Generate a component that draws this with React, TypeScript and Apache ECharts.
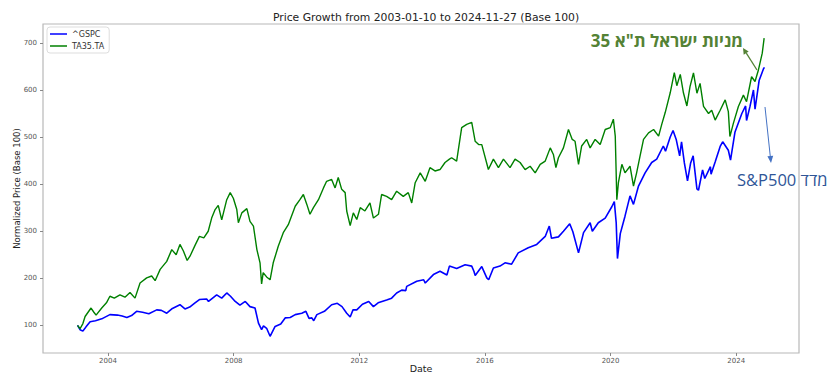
import React, { useEffect, useRef } from "react";
import * as echarts from "echarts";

const titleText = "Price Growth from 2003-01-10 to 2024-11-27 (Base 100)";
const seriesNames = ["^GSPC", "TA35.TA"];
const xTickYears = [2004, 2008, 2012, 2016, 2020, 2024];
const yTickValues = [100, 200, 300, 400, 500, 600, 700];

// [decimal year, normalized price]
const gspcPoints: [number, number][] = [
  [2003.03, 100], [2003.11, 91], [2003.2, 88], [2003.3, 97], [2003.43, 108], [2003.6, 110],
  [2003.8, 114], [2004.06, 123], [2004.3, 122], [2004.45, 120], [2004.6, 117], [2004.75, 121],
  [2004.91, 130], [2005.1, 128], [2005.3, 125], [2005.55, 133], [2005.7, 132], [2005.87, 126],
  [2006.05, 136], [2006.29, 144], [2006.45, 135], [2006.6, 139], [2006.77, 148], [2006.91, 155],
  [2007.14, 156], [2007.2, 151], [2007.46, 165], [2007.62, 158], [2007.78, 169], [2007.9, 162],
  [2008.05, 151], [2008.2, 143], [2008.37, 151], [2008.52, 140], [2008.68, 137], [2008.79, 105],
  [2008.89, 91], [2008.95, 99], [2009.05, 94], [2009.16, 77], [2009.32, 98], [2009.5, 103],
  [2009.64, 116], [2009.8, 117], [2009.96, 123], [2010.17, 126], [2010.3, 130], [2010.4, 115],
  [2010.49, 116], [2010.55, 110], [2010.65, 123], [2010.89, 130], [2011.12, 144], [2011.3, 147],
  [2011.45, 140], [2011.6, 126], [2011.71, 118], [2011.8, 133], [2011.92, 133], [2012.1, 145],
  [2012.3, 151], [2012.45, 140], [2012.6, 148], [2012.87, 154], [2013.03, 158], [2013.19, 169],
  [2013.35, 175], [2013.48, 174], [2013.51, 183], [2013.83, 194], [2014.05, 197], [2014.1, 190],
  [2014.36, 208], [2014.57, 215], [2014.79, 207], [2014.87, 226], [2015.1, 221], [2015.37, 229],
  [2015.58, 226], [2015.65, 215], [2015.69, 206], [2015.9, 225], [2016.06, 201], [2016.12, 197],
  [2016.27, 222], [2016.48, 226], [2016.64, 233], [2016.85, 230], [2017.06, 254], [2017.38, 265],
  [2017.65, 272], [2017.92, 289], [2018.05, 311], [2018.12, 285], [2018.34, 288], [2018.5, 300],
  [2018.7, 316], [2018.8, 299], [2018.98, 254], [2019.14, 297], [2019.35, 318], [2019.42, 300],
  [2019.61, 318], [2019.83, 328], [2020.04, 352], [2020.12, 363], [2020.18, 318], [2020.22, 242],
  [2020.31, 295], [2020.46, 332], [2020.62, 375], [2020.73, 357], [2020.89, 396], [2021.1, 424],
  [2021.31, 446], [2021.47, 453], [2021.68, 481], [2021.75, 470], [2021.9, 500], [2021.99, 514],
  [2022.09, 495], [2022.2, 460], [2022.26, 490], [2022.35, 445], [2022.45, 407], [2022.55, 445],
  [2022.63, 460], [2022.75, 390], [2022.8, 387], [2022.93, 430], [2023.0, 412], [2023.18, 437],
  [2023.2, 421], [2023.33, 447], [2023.49, 480], [2023.57, 490], [2023.75, 472], [2023.82, 451],
  [2023.96, 510], [2024.18, 550], [2024.3, 566], [2024.33, 535], [2024.44, 565], [2024.55, 600],
  [2024.6, 559], [2024.73, 620], [2024.87, 645], [2024.9, 648],
];

const ta35Points: [number, number][] = [
  [2003.03, 100], [2003.11, 93], [2003.2, 104], [2003.27, 119], [2003.46, 137], [2003.55, 128],
  [2003.62, 122], [2003.8, 137], [2003.95, 148], [2004.06, 162], [2004.2, 158], [2004.38, 165],
  [2004.54, 160], [2004.7, 170], [2004.86, 158], [2005.02, 190], [2005.23, 201], [2005.39, 205],
  [2005.5, 195], [2005.66, 219], [2005.87, 236], [2006.03, 261], [2006.17, 250], [2006.29, 272],
  [2006.4, 258], [2006.52, 238], [2006.61, 247], [2006.77, 270], [2006.91, 289], [2007.05, 286],
  [2007.19, 300], [2007.3, 328], [2007.41, 346], [2007.51, 355], [2007.62, 324], [2007.78, 367],
  [2007.89, 382], [2007.99, 370], [2008.1, 346], [2008.15, 318], [2008.26, 339], [2008.42, 348],
  [2008.52, 321], [2008.63, 311], [2008.74, 261], [2008.84, 233], [2008.89, 188], [2008.94, 212],
  [2009.05, 203], [2009.16, 197], [2009.26, 233], [2009.42, 268], [2009.58, 297], [2009.74, 314],
  [2009.96, 353], [2010.11, 367], [2010.22, 378], [2010.33, 357], [2010.43, 336], [2010.54, 350],
  [2010.7, 367], [2010.86, 392], [2010.96, 406], [2011.12, 410], [2011.23, 392], [2011.33, 414],
  [2011.44, 389], [2011.55, 382], [2011.6, 343], [2011.71, 312], [2011.81, 339], [2011.92, 325],
  [2012.03, 350], [2012.18, 343], [2012.34, 360], [2012.45, 328], [2012.61, 336], [2012.71, 378],
  [2012.87, 374], [2013.03, 367], [2013.19, 385], [2013.4, 374], [2013.56, 382], [2013.67, 360],
  [2013.78, 403], [2013.94, 424], [2014.1, 406], [2014.25, 435], [2014.41, 428], [2014.57, 431],
  [2014.73, 446], [2014.87, 453], [2014.94, 456], [2015.1, 449], [2015.26, 520], [2015.42, 527],
  [2015.58, 531], [2015.69, 491], [2015.8, 484], [2015.9, 484], [2016.11, 431], [2016.27, 453],
  [2016.43, 435], [2016.59, 453], [2016.8, 435], [2016.96, 453], [2017.12, 446], [2017.28, 431],
  [2017.44, 438], [2017.6, 424], [2017.76, 442], [2017.92, 449], [2018.08, 477], [2018.18, 463],
  [2018.26, 435], [2018.34, 456], [2018.5, 477], [2018.66, 516], [2018.78, 495], [2018.87, 491],
  [2018.98, 442], [2019.08, 481], [2019.24, 495], [2019.35, 477], [2019.51, 495], [2019.67, 484],
  [2019.83, 516], [2019.99, 520], [2020.09, 538], [2020.15, 502], [2020.2, 367], [2020.25, 403],
  [2020.36, 442], [2020.46, 424], [2020.62, 438], [2020.73, 396], [2020.83, 424], [2020.94, 460],
  [2021.05, 495], [2021.21, 509], [2021.37, 516], [2021.53, 502], [2021.63, 527], [2021.74, 552],
  [2021.9, 594], [2022.03, 637], [2022.11, 609], [2022.22, 633], [2022.32, 594], [2022.43, 566],
  [2022.53, 607], [2022.64, 636], [2022.75, 593], [2022.85, 614], [2022.96, 565], [2023.12, 550],
  [2023.22, 557], [2023.33, 536], [2023.49, 557], [2023.65, 579], [2023.75, 554], [2023.8, 501],
  [2023.91, 529], [2024.07, 565], [2024.23, 589], [2024.33, 575], [2024.49, 628], [2024.6, 618],
  [2024.71, 643], [2024.83, 678], [2024.89, 710],
];

const annotationTA = "35 מניות ישראל ת\"א";
const annotationSP = "S&P500 מדד";

const FONT = "DejaVu Sans, sans-serif";
const HEB_FONT = "Open Sans, DejaVu Sans, sans-serif";

export default function App() {
  const ref = useRef<HTMLDivElement>(null);
  useEffect(() => {
    if (!ref.current) return;
    const chart = echarts.init(ref.current, undefined, { renderer: "svg" });
    const axisLabelStyle = { fontFamily: FONT, fontSize: 7, color: "#555" };
    chart.setOption({
      animation: false,
      backgroundColor: "#fff",
      title: {
        text: titleText,
        left: 421,
        top: 7,
        textAlign: "center",
        textStyle: { fontFamily: FONT, fontSize: 10.8, fontWeight: "normal", color: "#222" },
      },
      grid: {
        left: 43, top: 24, width: 756, height: 329,
        containLabel: false, outerBoundsMode: "none",
        show: true, borderColor: "#b8b8b8", borderWidth: 1.2, backgroundColor: "transparent",
      },
      legend: {
        left: 47, top: 27, orient: "vertical",
        data: seriesNames,
        icon: "rect", itemWidth: 17, itemHeight: 1.5, itemGap: 4,
        backgroundColor: "rgba(255,255,255,0.85)", borderColor: "#dddddd", borderWidth: 1,
        borderRadius: 3, padding: [3, 5, 3, 3],
        textStyle: { fontFamily: FONT, fontSize: 8, color: "#333" },
      },
      xAxis: {
        type: "value", min: 2001.93, max: 2026.0,
        name: "Date", nameLocation: "middle", nameGap: 10, nameMoveOverlap: false,
        nameTextStyle: { fontFamily: FONT, fontSize: 9.5, lineHeight: 10, color: "#222" },
        axisLine: { show: false },
        splitLine: { show: false },
        axisTick: { show: true, length: 3, lineStyle: { color: "#888" }, customValues: xTickYears },
        axisLabel: { ...axisLabelStyle, margin: 4, customValues: xTickYears, formatter: (v: number) => String(Math.round(v)) },
      },
      yAxis: {
        type: "value", min: 41.5, max: 740,
        name: "Normalized Price (Base 100)", nameLocation: "middle", nameGap: 22, nameRotate: 90,
        nameMoveOverlap: false,
        nameTextStyle: { fontFamily: FONT, fontSize: 8.5, color: "#222" },
        axisLine: { show: false },
        splitLine: { show: false },
        axisTick: { show: true, length: 3, lineStyle: { color: "#888" }, customValues: yTickValues },
        axisLabel: { ...axisLabelStyle, margin: 6, customValues: yTickValues, formatter: (v: number) => String(Math.round(v)) },
      },
      series: [
        {
          name: seriesNames[0], type: "line", data: gspcPoints, showSymbol: false, symbol: "none",
          color: "#0000ff", lineStyle: { color: "#0000ff", width: 1.6 }, z: 2,
        },
        {
          name: seriesNames[1], type: "line", data: ta35Points, showSymbol: false, symbol: "none",
          color: "#008000", lineStyle: { color: "#008000", width: 1.4 }, z: 3,
        },
      ],
      graphic: [
        {
          type: "text", x: 743, y: 40, z: 10,
          style: { text: annotationTA, align: "right", verticalAlign: "middle", fill: "#548235",
            font: `bold 17px ${HEB_FONT}` },
        },
        { type: "line", z: 10, shape: { x1: 757, y1: 70, x2: 746.3, y2: 53.2 }, style: { stroke: "#548235", lineWidth: 1.3 } },
        { type: "polygon", z: 10, shape: { points: [[743, 48], [748.7, 51.5], [743.7, 54.7]] }, style: { fill: "#548235" } },
        {
          type: "text", x: 737, y: 179, z: 10,
          style: { text: annotationSP, align: "left", verticalAlign: "middle", fill: "#2f5597",
            font: `16.5px ${HEB_FONT}` },
        },
        { type: "line", z: 10, shape: { x1: 765, y1: 107, x2: 770.3, y2: 156.5 }, style: { stroke: "#4472c4", lineWidth: 1 } },
        { type: "polygon", z: 10, shape: { points: [[771, 163], [773.2, 155.7], [767.4, 156.3]] }, style: { fill: "#4472c4" } },
      ],
    });
    return () => chart.dispose();
  }, []);
  return <div ref={ref} style={{ position: "fixed", left: 0, top: 0, width: 835, height: 376 }} />;
}
